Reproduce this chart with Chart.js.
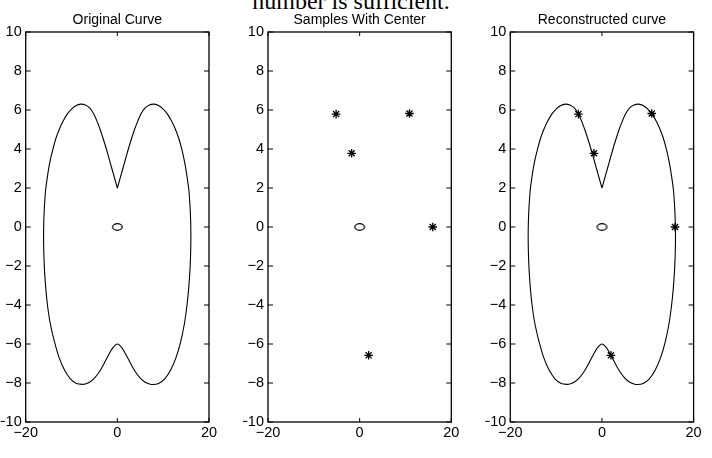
<!DOCTYPE html>
<html>
<head>
<meta charset="utf-8">
<script src="https://cdn.jsdelivr.net/npm/chart.js"></script>
<style>
    body { margin: 0; background: #fff; }
    #wrap { position: relative; width: 712px; height: 458px; overflow: hidden; background: #fff; }
    #wrap canvas { position: absolute; left: 0; top: 0; }
    #caption {
        position: absolute; left: -5px; top: -11px; width: 712px; text-align: center;
        font-family: "Liberation Serif", "Times New Roman", serif; font-size: 24px; line-height: 24px; color: #000;
    }
</style>
</head>
<body>
<div id="wrap">
    <div id="caption">number is sufficient.</div>
    <canvas id="p1" width="712" height="458"></canvas>
    <canvas id="p2" width="712" height="458"></canvas>
    <canvas id="p3" width="712" height="458"></canvas>
</div>
<script>
// axis ticks
const xTicks = [-20, 0, 20];
const yTicks = [-10, -8, -6, -4, -2, 0, 2, 4, 6, 8, 10];
const titles = ['Original Curve', 'Samples With Center', 'Reconstructed curve'];

// curve, starting at the cusp, clockwise
const curveX = [0, 0.6, 1.2, 1.8, 2.4, 3.05, 3.75, 4.45, 5.14, 6.0, 7.0, 8.0,
    9.0, 10.0, 10.9, 11.8, 12.6, 13.4, 14.1, 14.7, 15.2, 15.6,
    15.85, 16.0, 16.05, 16.0, 15.85, 15.55, 15.15, 14.6, 13.8, 12.8,
    11.6, 10.3, 9.0, 7.7, 7.0, 6.0, 5.0, 4.0, 3.0, 2.0, 1.0, 0,
    -1, -2, -3, -4, -5, -6, -7, -7.6, -8.9, -10.2,
    -11.5, -12.7, -13.7, -14.6, -15.2, -15.6, -15.9, -16.05, -16.1, -16.05,
    -15.9, -15.65, -15.25, -14.75, -14.1, -13.4, -12.6, -11.8, -10.9, -10.0,
    -9.0, -8.0, -7.0, -6.0, -5.14, -4.45, -3.75, -3.05, -2.4, -1.8, -1.2, -0.6, 0];
const curveY = [2, 2.5, 3.0, 3.5, 4.0, 4.5, 5.0, 5.43, 5.8, 6.1, 6.26, 6.3,
    6.23, 6.05, 5.8, 5.45, 5.05, 4.55, 3.95, 3.3, 2.6, 1.9,
    1.1, 0.3, -0.5, -1.3, -2.2, -3.2, -4.1, -5.0, -5.9, -6.7,
    -7.35, -7.8, -8.02, -8.08, -8.05, -7.95, -7.75, -7.45, -7.05, -6.6, -6.2, -6.0,
    -6.2, -6.6, -7.05, -7.45, -7.75, -7.95, -8.05, -8.07, -8.02, -7.8,
    -7.35, -6.7, -5.9, -5.0, -4.1, -3.2, -2.2, -1.3, -0.5, 0.3,
    1.1, 1.9, 2.6, 3.3, 3.95, 4.55, 5.05, 5.45, 5.8, 6.05,
    6.23, 6.3, 6.26, 6.1, 5.8, 5.43, 5.0, 4.5, 4.0, 3.5, 3.0, 2.5, 2];

// samples and center
const sampleX = [-5.14, 10.87, -1.74, 15.95, 1.96];
const sampleY = [5.79, 5.82, 3.78, 0, -6.58];
const centerX = [0];
const centerY = [0];

const FONT = '"Liberation Sans", Arial, Helvetica, sans-serif';
const panelLeft = [25.7, 268, 510.3];
const panelWidth = 183.3;
const yAxisWidth = 25;

function toPoints(xs, ys) {
    return xs.map((x, i) => ({ x: x, y: ys[i] }));
}

// small ellipse used as the 'o' marker
function makeCircleMarker() {
    const c = document.createElement('canvas');
    c.width = 13; c.height = 10;
    const g = c.getContext('2d');
    g.strokeStyle = '#000';
    g.lineWidth = 1.3;
    g.beginPath();
    g.ellipse(6.5, 5, 4.8, 3.3, 0, 0, Math.PI * 2);
    g.stroke();
    return c;
}
const circleMarker = makeCircleMarker();

const curveSet = () => ({
    data: toPoints(curveX, curveY),
    showLine: true,
    borderColor: '#000',
    borderWidth: 1.1,
    pointRadius: 0,
    tension: 0.3,
    fill: false
});
const sampleSet = () => ({
    data: toPoints(sampleX, sampleY),
    showLine: false,
    pointStyle: 'star',
    pointRadius: 4.3,
    borderColor: '#000',
    borderWidth: 1.3,
    backgroundColor: '#000'
});
const centerSet = () => ({
    data: toPoints(centerX, centerY),
    showLine: false,
    pointStyle: circleMarker,
    pointRadius: 5
});

// box, inward ticks and title like the original figure
const boxPlugin = {
    id: 'box',
    afterDraw(chart, args, opts) {
        const { ctx, chartArea: a, scales } = chart;
        ctx.save();
        ctx.strokeStyle = '#000';
        ctx.lineWidth = 1.3;
        ctx.strokeRect(a.left, a.top, a.right - a.left, a.bottom - a.top);
        ctx.lineWidth = 1;
        ctx.beginPath();
        xTicks.forEach(v => {
            const px = scales.x.getPixelForValue(v);
            ctx.moveTo(px, a.bottom); ctx.lineTo(px, a.bottom - 4);
            ctx.moveTo(px, a.top); ctx.lineTo(px, a.top + 4);
        });
        yTicks.forEach(v => {
            const py = scales.y.getPixelForValue(v);
            ctx.moveTo(a.left, py); ctx.lineTo(a.left + 5, py);
            ctx.moveTo(a.right, py); ctx.lineTo(a.right - 5, py);
        });
        ctx.stroke();
        ctx.fillStyle = '#000';
        ctx.font = '14px ' + FONT;
        ctx.textAlign = 'center';
        ctx.textBaseline = 'middle';
        ctx.fillText(opts.title, (a.left + a.right) / 2, 20);
        ctx.restore();
    }
};

function makePanel(id, idx, datasets) {
    const left = panelLeft[idx];
    new Chart(document.getElementById(id), {
        type: 'scatter',
        data: { datasets: datasets },
        options: {
            responsive: false,
            animation: false,
            events: [],
            layout: { padding: { left: left - yAxisWidth, right: 712 - left - panelWidth, top: 32, bottom: 0 } },
            plugins: {
                legend: { display: false },
                tooltip: { enabled: false },
                box: { title: titles[idx] }
            },
            scales: {
                x: {
                    type: 'linear', min: -20, max: 20,
                    afterBuildTicks: axis => { axis.ticks = xTicks.map(v => ({ value: v })); },
                    afterFit: s => { s.height = 36; },
                    grid: { display: false, drawTicks: false },
                    border: { display: false },
                    ticks: {
                        padding: 2, color: '#000', maxRotation: 0, autoSkip: false,
                        font: { family: FONT, size: 14.5 },
                        callback: v => String(v).replace('-', '\u2212')
                    }
                },
                y: {
                    type: 'linear', min: -10, max: 10,
                    afterBuildTicks: axis => { axis.ticks = yTicks.map(v => ({ value: v })); },
                    afterFit: s => { s.width = yAxisWidth; },
                    grid: { display: false, drawTicks: false },
                    border: { display: false },
                    ticks: {
                        padding: 4, color: '#000', autoSkip: false,
                        font: { family: FONT, size: 14.5 },
                        callback: v => String(v).replace('-', '\u2212')
                    }
                }
            }
        },
        plugins: [boxPlugin]
    });
}

makePanel('p1', 0, [curveSet(), centerSet()]);
makePanel('p2', 1, [sampleSet(), centerSet()]);
makePanel('p3', 2, [curveSet(), sampleSet(), centerSet()]);
</script>
</body>
</html>
